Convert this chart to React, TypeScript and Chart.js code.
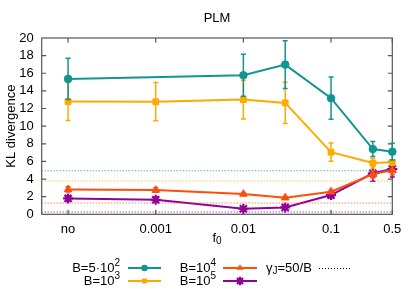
import React, { useEffect, useRef } from "react";
import { Chart, registerables } from "chart.js";

Chart.register(...registerables);

// ---------- data ----------
const fValues = [1e-4, 1e-3, 1e-2, 0.03, 0.1, 0.3, 0.5]; // "no" plotted at 1e-4
const xTickValues = [1e-4, 1e-3, 1e-2, 0.1, 0.5];
const xTickLabels = ["no", "0.001", "0.01", "0.1", "0.5"];

const klB500: (number | null)[] = [15.36, null, 15.77, 16.98, 13.17, 7.4, 7.1];
const errB500: (number | null)[] = [2.35, null, 2.38, 2.72, 2.4, 0.85, 0.95];
const klB1e3 = [12.79, 12.77, 13.01, 12.64, 7.05, 5.81, 5.9];
const errB1e3 = [2.16, 2.17, 2.2, 2.35, 1.03, 0.55, 0.3];
const klB1e4 = [2.82, 2.75, 2.3, 1.88, 2.56, 4.56, 5.0];
const errB1e4 = [0.3, 0.25, 0.15, 0.12, 0.2, 0.4, 0.5];
const klB1e5 = [1.8, 1.65, 0.63, 0.78, 2.18, 4.65, 5.13];
const errB1e5 = [0.3, 0.3, 0.2, 0.2, 0.3, 0.9, 0.9];

const gammaLevels = [4.94, 3.77, 1.28, 0.26];

const seriesBase = ["B=5·10", "B=10", "B=10", "B=10"];
const seriesExp = ["2", "3", "4", "5"];
const seriesColors = ["#129590", "#ffaa00", "#ff4d0a", "#91009a"];
const seriesPoint = ["circle", "rect", "triangle", "star"];
const seriesRadius = [3.8, 4.1, 4.4, 5];

const FONT = "'Liberation Sans', Arial, Helvetica, sans-serif";

type Part = { t: string; m: "n" | "sup" | "sub" };

function partFont(m: string) {
  return m === "n" ? `13px ${FONT}` : `10px ${FONT}`;
}

function drawRich(ctx: CanvasRenderingContext2D, parts: Part[], x: number, y: number, align: "left" | "right" | "center") {
  ctx.save();
  ctx.textBaseline = "middle";
  ctx.textAlign = "left";
  let total = 0;
  for (const p of parts) {
    ctx.font = partFont(p.m);
    total += ctx.measureText(p.t).width;
  }
  let cx = align === "right" ? x - total : align === "center" ? x - total / 2 : x;
  for (const p of parts) {
    ctx.font = partFont(p.m);
    const dy = p.m === "sup" ? -5 : p.m === "sub" ? 3.5 : 0;
    ctx.fillText(p.t, cx, y + dy);
    cx += ctx.measureText(p.t).width;
  }
  ctx.restore();
}

function drawMarker(ctx: CanvasRenderingContext2D, style: string, x: number, y: number, r: number, color: string) {
  ctx.save();
  ctx.fillStyle = color;
  ctx.strokeStyle = color;
  ctx.beginPath();
  if (style === "circle") {
    ctx.arc(x, y, r, 0, Math.PI * 2);
    ctx.fill();
  } else if (style === "rect") {
    const s = r * Math.SQRT1_2;
    ctx.fillRect(x - s, y - s, 2 * s, 2 * s);
  } else if (style === "triangle") {
    ctx.moveTo(x, y - r);
    ctx.lineTo(x + r * 0.87, y + r * 0.5);
    ctx.lineTo(x - r * 0.87, y + r * 0.5);
    ctx.closePath();
    ctx.fill();
  } else if (style === "star") {
    ctx.lineWidth = 2.2;
    ctx.moveTo(x - r, y);
    ctx.lineTo(x + r, y);
    ctx.moveTo(x, y - r);
    ctx.lineTo(x, y + r);
    const d = r * Math.SQRT1_2;
    ctx.moveTo(x - d, y - d);
    ctx.lineTo(x + d, y + d);
    ctx.moveTo(x - d, y + d);
    ctx.lineTo(x + d, y - d);
    ctx.stroke();
  }
  ctx.restore();
}

const allSeries = [klB500, klB1e3, klB1e4, klB1e5];
const allErrors = [errB500, errB1e3, errB1e4, errB1e5];

const frameAndErrors = {
  id: "frameAndErrors",
  beforeDatasetsDraw(chart: any) {
    const { ctx, chartArea: a, scales } = chart;
    ctx.save();
    ctx.strokeStyle = "#555";
    ctx.lineWidth = 1.2;
    ctx.strokeRect(a.left, a.top, a.right - a.left, a.bottom - a.top);
    const tl = 4.5;
    ctx.beginPath();
    for (const v of xTickValues) {
      const px = scales.x.getPixelForValue(v);
      ctx.moveTo(px, a.bottom);
      ctx.lineTo(px, a.bottom - tl);
      ctx.moveTo(px, a.top);
      ctx.lineTo(px, a.top + tl);
    }
    for (let v = 2; v < 20; v += 2) {
      const py = scales.y.getPixelForValue(v);
      ctx.moveTo(a.left, py);
      ctx.lineTo(a.left + tl, py);
      ctx.moveTo(a.right, py);
      ctx.lineTo(a.right - tl, py);
    }
    ctx.stroke();
    ctx.restore();
  },
  beforeDatasetDraw(chart: any, args: any) {
    const i = args.index;
    if (i < gammaLevels.length) return;
    const s = i - gammaLevels.length;
    const vals = allSeries[s];
    const errs = allErrors[s];
    const { ctx, scales } = chart;
    ctx.save();
    ctx.strokeStyle = seriesColors[s];
    ctx.lineWidth = 1.5;
    ctx.beginPath();
    for (let k = 0; k < fValues.length; k++) {
      const v = vals[k];
      const e = errs[k];
      if (v == null || e == null) continue;
      const px = scales.x.getPixelForValue(fValues[k]);
      const y1 = scales.y.getPixelForValue(v - e);
      const y2 = scales.y.getPixelForValue(v + e);
      ctx.moveTo(px, y1);
      ctx.lineTo(px, y2);
      ctx.moveTo(px - 2.5, y1);
      ctx.lineTo(px + 2.5, y1);
      ctx.moveTo(px - 2.5, y2);
      ctx.lineTo(px + 2.5, y2);
    }
    ctx.stroke();
    ctx.restore();
  },
  afterDraw(chart: any) {
    const ctx: CanvasRenderingContext2D = chart.ctx;
    const a = chart.chartArea;
    ctx.save();
    ctx.fillStyle = "#000";
    // x axis title f_0
    drawRich(ctx, [{ t: "f", m: "n" }, { t: "0", m: "sub" }], (a.left + a.right) / 2, 238, "center");
    const cols = [
      { textRight: 120, s0: 128, s1: 161 },
      { textRight: 216, s0: 223, s1: 257 },
    ];
    const rows = [268, 281];
    for (let s = 0; s < 4; s++) {
      const c = cols[Math.floor(s / 2)];
      const y = rows[s % 2];
      drawRich(ctx, [{ t: seriesBase[s], m: "n" }, { t: seriesExp[s], m: "sup" }], c.textRight, y, "right");
      ctx.strokeStyle = seriesColors[s];
      ctx.lineWidth = 2;
      ctx.beginPath();
      ctx.moveTo(c.s0, y);
      ctx.lineTo(c.s1, y);
      ctx.stroke();
      drawMarker(ctx, seriesPoint[s], (c.s0 + c.s1) / 2, y, seriesRadius[s] * 0.85, seriesColors[s]);
    }
    drawRich(ctx, [{ t: "γ", m: "n" }, { t: "J", m: "sub" }, { t: "=50/B", m: "n" }], 266, rows[0], "left");
    ctx.strokeStyle = "#000";
    ctx.lineWidth = 1;
    ctx.setLineDash([1, 2]);
    ctx.beginPath();
    ctx.moveTo(319, rows[0] + 0.5);
    ctx.lineTo(351, rows[0] + 0.5);
    ctx.stroke();
    ctx.restore();
  },
};

export default function App() {
  const ref = useRef<HTMLCanvasElement | null>(null);
  useEffect(() => {
    if (!ref.current) return;
    Chart.defaults.font.family = FONT;
    Chart.defaults.font.size = 13;
    Chart.defaults.color = "#000";

    const gammaDatasets = gammaLevels.map((g, i) => ({
      type: "line" as const,
      label: "gamma" + i,
      data: [
        { x: 5e-5, y: g },
        { x: 0.5, y: g },
      ],
      borderColor: seriesColors[i],
      borderWidth: 1,
      borderDash: [1, 2],
      pointRadius: 0,
      fill: false,
    }));

    const seriesDatasets = allSeries.map((vals, s) => ({
      type: "line" as const,
      label: seriesBase[s] + seriesExp[s],
      data: fValues
        .map((x, k) => ({ x, y: vals[k] }))
        .filter((p) => p.y != null),
      borderColor: seriesColors[s],
      backgroundColor: seriesColors[s],
      borderWidth: 2,
      pointStyle: seriesPoint[s] as any,
      pointRadius: seriesRadius[s],
      pointBorderWidth: seriesPoint[s] === "star" ? 2.2 : 1,
      pointBorderColor: seriesColors[s],
      pointBackgroundColor: seriesColors[s],
      fill: false,
      clip: false as any,
      tension: 0,
    }));

    const chart = new Chart(ref.current, {
      type: "line",
      data: { datasets: [...gammaDatasets, ...seriesDatasets] as any },
      options: {
        responsive: false,
        animation: false,
        layout: { padding: { top: 0, right: 22.7, bottom: 0, left: 0 } },
        plugins: {
          legend: { display: false },
          tooltip: { enabled: false },
          title: {
            display: true,
            fullSize: false,
            text: "PLM",
            color: "#000",
            font: { size: 13, weight: "normal" as any },
            padding: { top: 10.5, bottom: 11.9 },
          },
        },
        scales: {
          x: {
            type: "logarithmic",
            min: 5e-5,
            max: 0.5,
            grid: { display: false, drawTicks: false },
            border: { display: false },
            afterBuildTicks: (s: any) => {
              s.ticks = xTickValues.map((v) => ({ value: v }));
            },
            afterFit: (s: any) => {
              s.height = 76.7;
            },
            ticks: {
              autoSkip: false,
              maxRotation: 0,
              padding: 7,
              callback: (_v: any, i: number) => xTickLabels[i],
            },
          },
          y: {
            type: "linear",
            min: 0,
            max: 20,
            grid: { display: false, drawTicks: false },
            border: { display: false },
            afterFit: (s: any) => {
              s.width = 41.7;
            },
            ticks: { stepSize: 2, padding: 8, autoSkip: false },
            title: {
              display: true,
              text: "KL divergence",
              font: { size: 13 },
              padding: { top: 4, bottom: 0 },
            },
          },
        },
      },
      plugins: [frameAndErrors],
    });
    return () => chart.destroy();
  }, []);

  return (
    <div style={{ position: "absolute", left: 0, top: 0, width: 415, height: 291, background: "#fff" }}>
      <canvas ref={ref} width={415} height={291} style={{ display: "block" }} />
    </div>
  );
}
